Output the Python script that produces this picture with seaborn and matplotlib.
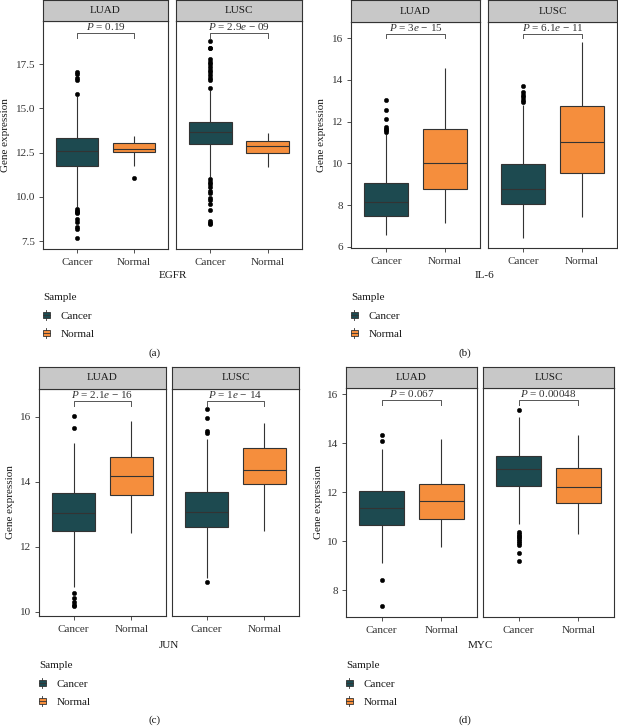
import numpy as np
import pandas as pd
import matplotlib
matplotlib.use("Agg")
import matplotlib.pyplot as plt
import matplotlib.transforms as mtransforms
import seaborn as sns
from matplotlib.legend_handler import HandlerBase
from matplotlib.patches import Rectangle, Patch
from matplotlib.lines import Line2D

# ---------------- data ----------------
cohorts = ["LUAD", "LUSC"]
samples = ["Cancer", "Normal"]
genes = ["EGFR", "IL-6", "JUN", "MYC"]
panel_tags = ["(a)", "(b)", "(c)", "(d)"]
# order inside each list: LUAD-Cancer, LUAD-Normal, LUSC-Cancer, LUSC-Normal

egfr_q1 = [11.76, 12.52, 12.97, 12.50]
egfr_med = [12.58, 12.71, 13.65, 12.90]
egfr_q3 = [13.35, 13.07, 14.22, 13.14]
egfr_lo = [9.45, 11.76, 11.15, 11.70]
egfr_hi = [15.70, 13.44, 16.05, 13.60]
egfr_out = [
    [15.80, 16.60, 16.75, 16.95, 17.05, 9.30, 9.22, 9.15, 9.08, 8.72, 8.55, 8.30, 8.18, 7.65],
    [11.08],
    [16.15, 16.60, 16.75, 16.90, 17.05, 17.20, 17.35, 17.50, 17.65, 17.80, 18.40, 18.45, 18.80,
     11.00, 10.85, 10.70, 10.55, 10.35, 10.20, 9.95, 9.80, 9.60, 9.25, 8.65, 8.50, 8.45],
    [],
]
egfr_p = ["0.19", "2.9e-09"]

il6_q1 = [7.46, 8.77, 8.05, 9.52]
il6_med = [8.13, 10.00, 8.77, 11.04]
il6_q3 = [9.06, 11.63, 9.95, 12.75]
il6_lo = [6.56, 7.15, 6.40, 7.44]
il6_hi = [11.42, 14.56, 12.78, 15.81]
il6_out = [
    [11.50, 11.58, 11.65, 11.75, 12.15, 12.55, 13.03],
    [],
    [12.92, 13.05, 13.20, 13.30, 13.42, 13.72],
    [],
]
il6_p = ["3e-15", "6.1e-11"]

jun_q1 = [12.48, 13.60, 12.60, 13.92]
jun_med = [13.03, 14.19, 13.08, 14.36]
jun_q3 = [13.65, 14.77, 13.69, 15.03]
jun_lo = [10.77, 12.41, 11.05, 12.49]
jun_hi = [15.18, 15.87, 15.30, 15.79]
jun_out = [
    [15.66, 16.02, 10.59, 10.43, 10.30, 10.22, 10.17],
    [],
    [15.50, 15.55, 15.95, 16.25, 10.92],
    [],
]
jun_p = ["2.1e-16", "1e-14"]

myc_q1 = [10.67, 10.89, 12.26, 11.58]
myc_med = [11.34, 11.66, 12.95, 12.22]
myc_q3 = [12.03, 12.33, 13.49, 13.00]
myc_lo = [9.12, 9.77, 10.72, 10.28]
myc_hi = [13.76, 14.16, 15.08, 14.33]
myc_out = [
    [14.10, 14.35, 8.41, 7.36],
    [],
    [15.38, 10.38, 10.30, 10.22, 10.15, 10.08, 10.00, 9.92, 9.85, 9.50, 9.19],
    [],
]
myc_p = ["0.067", "0.00048"]

y_ticks = [[7.5, 10.0, 12.5, 15.0, 17.5], [6, 8, 10, 12, 14, 16],
           [10, 12, 14, 16], [8, 10, 12, 14, 16]]
y_limits = [(7.05, 19.95), (5.94, 16.78), (9.87, 16.85), (6.90, 16.26)]

palette = {"Cancer": "#1D4A50", "Normal": "#F58E3D"}

stats_by_gene = [
    (egfr_q1, egfr_med, egfr_q3, egfr_lo, egfr_hi, egfr_out, egfr_p),
    (il6_q1, il6_med, il6_q3, il6_lo, il6_hi, il6_out, il6_p),
    (jun_q1, jun_med, jun_q3, jun_lo, jun_hi, jun_out, jun_p),
    (myc_q1, myc_med, myc_q3, myc_lo, myc_hi, myc_out, myc_p),
]


def expand(q1, med, q3, lo, hi, out, k=40):
    """Value list whose box statistics reproduce the read-off summary."""
    return [lo] + [q1] * k + [med] * k + [q3] * k + [hi] + list(out)


rows = []
for g, (q1, md, q3, lo, hi, out, _) in zip(genes, stats_by_gene):
    i = 0
    for c in cohorts:
        for s in samples:
            for v in expand(q1[i], md[i], q3[i], lo[i], hi[i], out[i]):
                rows.append((g, c, s, v))
            i += 1
df = pd.DataFrame(rows, columns=["gene", "cohort", "Sample", "value"])

# ---------------- style ----------------
plt.rcParams["font.family"] = ["Liberation Serif", "DejaVu Serif"]
plt.rcParams["mathtext.fontset"] = "custom"
plt.rcParams["mathtext.rm"] = "Liberation Serif"
plt.rcParams["mathtext.it"] = "Liberation Serif:italic"
FS = 8
TXT = "#333333"
LINE = "#333333"

W, H = 618, 728
fig = plt.figure(figsize=(W / 100, H / 100), dpi=100)


def rect(x0, x1, ytop, ybot):
    return [x0 / W, 1 - ybot / H, (x1 - x0) / W, (ybot - ytop) / H]


def fx(x):
    return x / W


def fy(y):
    return 1 - y / H


# pixel layout: facet x-ranges, strip top, plot top, plot bottom
layouts = [
    dict(fac=[(43, 168), (176, 302)], st=0, pt=21, pb=249, ylab=5.5, glab=276,
         leg=(43, 293), tag=(155, 353)),
    dict(fac=[(351, 480), (488, 617)], st=0, pt=22, pb=248, ylab=321.5, glab=276,
         leg=(351, 293), tag=(465, 353)),
    dict(fac=[(39, 166), (172, 299)], st=367, pt=389, pb=616, ylab=10.5, glab=645,
         leg=(39, 661), tag=(155, 720)),
    dict(fac=[(346, 477), (483, 614)], st=367, pt=388, pb=617, ylab=318.5, glab=645,
         leg=(346, 661), tag=(465, 720)),
]


def p_label(s):
    if "e" in s:
        m, e = s.split("e")
        return f"$P$ = {m}$e$ \u2212 {e.lstrip('-')}"
    return f"$P$ = {s}"


class BoxKeyHandler(HandlerBase):
    def create_artists(self, legend, orig_handle, xdescent, ydescent, width,
                       height, fontsize, trans):
        fc = orig_handle.get_facecolor()
        x0, y0 = -xdescent, -ydescent
        cx = x0 + width / 2
        bh = height * 0.62
        by = y0 + (height - bh) / 2
        r = Rectangle((x0, by), width, bh, facecolor=fc, edgecolor=LINE,
                      linewidth=0.6, transform=trans)
        med = Line2D([x0, x0 + width], [by + bh / 2] * 2, color=LINE, lw=0.6,
                     transform=trans)
        w1 = Line2D([cx, cx], [y0, by], color=LINE, lw=0.6, transform=trans)
        w2 = Line2D([cx, cx], [by + bh, y0 + height], color=LINE, lw=0.6,
                    transform=trans)
        return [r, med, w1, w2]


for gi, (g, lay) in enumerate(zip(genes, layouts)):
    pvals = stats_by_gene[gi][6]
    for ci, c in enumerate(cohorts):
        x0, x1 = lay["fac"][ci]
        ax = fig.add_axes(rect(x0, x1, lay["pt"], lay["pb"]))
        sub = df[(df.gene == g) & (df.cohort == c)]
        sns.boxplot(data=sub, x="Sample", y="value", hue="Sample", order=samples,
                    hue_order=samples, palette=palette, saturation=1, width=0.75,
                    linewidth=0.8, linecolor=LINE, showcaps=False,
                    flierprops=dict(marker="o", markerfacecolor="black",
                                    markeredgecolor="black", markersize=3.2,
                                    markeredgewidth=0.3),
                    legend=False, ax=ax)
        ax.set_xlim(-0.6, 1.6)
        ax.set_ylim(*y_limits[gi])
        ax.set_xlabel("")
        ax.set_ylabel("")
        ax.set_facecolor("white")
        for sp in ax.spines.values():
            sp.set_visible(True)
            sp.set_color(LINE)
            sp.set_linewidth(0.8)
        ax.tick_params(axis="both", length=2.9, width=0.6, color=LINE, pad=2.6,
                       labelsize=FS, labelcolor=TXT)
        ax.tick_params(axis="x", pad=3.4)
        ax.set_yticks(y_ticks[gi])
        if gi == 0:
            ax.set_yticklabels([f"{t:.1f}" for t in y_ticks[gi]])
        else:
            ax.set_yticklabels([f"{t:g}" for t in y_ticks[gi]])
        if ci == 1:
            ax.tick_params(axis="y", left=False, labelleft=False)
        ax.grid(False)

        # significance bracket between the two categories
        tr = mtransforms.blended_transform_factory(ax.transData, ax.transAxes)
        ax.plot([0, 0, 1, 1], [0.927, 0.948, 0.948, 0.927], transform=tr,
                color="#555555", lw=0.7, clip_on=False)
        ax.text(0.5, 0.975, p_label(pvals[ci]), transform=tr, ha="center",
                va="center", fontsize=FS, color=TXT)

        # facet strip
        sax = fig.add_axes(rect(x0, x1, lay["st"], lay["pt"]))
        sax.set_facecolor("#C8C8C8")
        sax.set_xticks([])
        sax.set_yticks([])
        for sp in sax.spines.values():
            sp.set_color(LINE)
            sp.set_linewidth(0.8)
        sax.text(0.5, 0.5, c, ha="center", va="center", fontsize=FS,
                 color="#1a1a1a", transform=sax.transAxes)

    xa = (lay["fac"][0][0] + lay["fac"][1][1]) / 2
    fig.text(fx(lay["ylab"]), fy((lay["pt"] + lay["pb"]) / 2), "Gene expression",
             rotation=90, ha="center", va="center", fontsize=FS, color="#1a1a1a")
    fig.text(fx(xa), fy(lay["glab"]), g, ha="center", va="center", fontsize=FS,
             color="#1a1a1a")
    handles = [Patch(facecolor=palette[s], edgecolor=LINE) for s in samples]
    lg = fig.legend(handles, samples, title="Sample", loc="upper left",
                    bbox_to_anchor=(fx(lay["leg"][0]), fy(lay["leg"][1])),
                    frameon=False, borderpad=0, borderaxespad=0,
                    handlelength=0.6, handleheight=1.0, handletextpad=1.0,
                    labelspacing=0.7, alignment="left", fontsize=FS,
                    title_fontsize=FS,
                    handler_map={Patch: BoxKeyHandler()})
    for t in lg.get_texts():
        t.set_color("#1a1a1a")
    lg.get_title().set_color("#1a1a1a")
    fig.text(fx(lay["tag"][0]), fy(lay["tag"][1]), panel_tags[gi], ha="center",
             va="center", fontsize=FS, color="#1a1a1a")

fig.savefig("out.png", dpi=100, facecolor="white")
